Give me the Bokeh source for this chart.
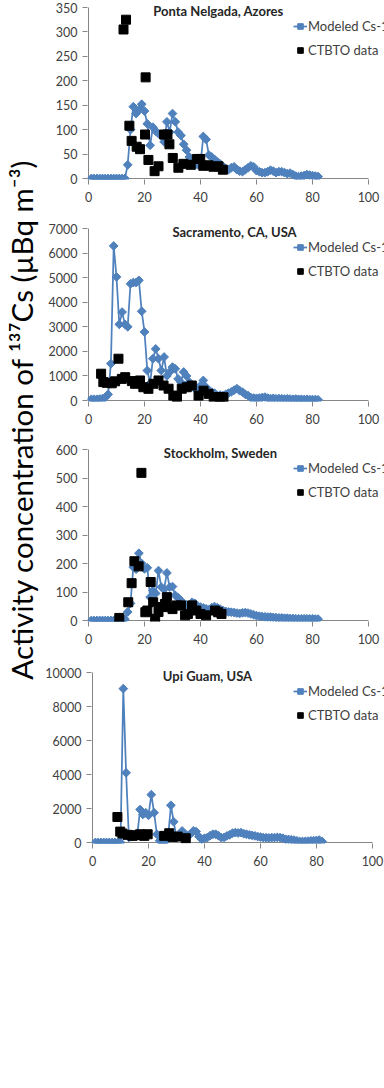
import numpy as np
from bokeh.plotting import figure
from bokeh.models import Range1d, Label, Legend, LegendItem, FixedTicker, ColumnDataSource
from bokeh.layouts import row, column
from bokeh.embed import file_html
from bokeh.resources import INLINE

# ---------------- data ----------------
x_ticks = [0, 20, 40, 60, 80, 100]
model_days = list(range(1, 83))

titles = ["Ponta Nelgada, Azores", "Sacramento, CA, USA", "Stockholm, Sweden", "Upi Guam, USA"]
y_max = [350, 7000, 600, 10000]
y_step = [50, 1000, 100, 2000]

azores_model = [0, 0, 0, 0, 0, 0, 0, 0, 0, 0, 0, 0, 0,
                28, 100, 147, 133, 140, 152, 138, 112, 68, 105, 97, 92, 88, 75, 116, 95, 133, 116,
                95, 88, 70, 58, 44, 31, 27, 29, 30, 86, 80, 48, 44, 39, 34, 30, 25, 20, 18, 22,
                24, 18, 15, 14, 18, 22, 26, 24, 16, 14, 12, 12, 14, 17, 15, 12, 14, 14, 12, 10,
                11, 8, 5, 4, 5, 6, 8, 7, 6, 5, 4]
azores_obs_x = [12.5, 13.4, 14.6, 15.4, 17.2, 18.4, 20.2, 20.4, 21.4, 23.6, 25, 27, 28.2, 28.9,
                30.1, 32.1, 33.9, 36.5, 38.7, 39.9, 41, 42.9, 44.6, 46.4, 48]
azores_obs_y = [305, 325, 108, 77, 65, 60, 90, 207, 38, 15, 25, 90, 90, 70,
                42, 22, 30, 28, 40, 40, 26, 27, 24, 25, 18]

sacramento_model = [50, 50, 50, 60, 80, 120, 250, 1500, 6290, 5030, 3100, 3600, 3100, 3000,
                    4750, 4800, 4800, 4890, 3630, 2790, 1220, 700, 1700, 2100, 1700, 1220, 1770,
                    1000, 1160, 1360, 1290, 880, 750, 1160, 1000, 750, 600, 480, 500, 610, 815,
                    540, 400, 340, 300, 200, 220, 200, 250, 300, 350, 420, 480, 400, 340, 250,
                    200, 120, 100, 90, 100, 120, 140, 100, 80, 90, 70, 80, 70, 60, 70, 60, 50,
                    60, 50, 50, 40, 50, 40, 40, 40, 30]
sacramento_obs_x = [4.5, 5.3, 6.5, 8.3, 9.5, 10.7, 11.9, 13.1, 15.5, 16.6, 18.4, 19.6, 21.4, 23.2,
                    25, 26.8, 28.6, 30.3, 31.6, 33.3, 35.1, 36.9, 39.3, 41.1, 42.9, 44.7, 47, 48.2]
sacramento_obs_y = [1090, 750, 720, 700, 780, 1700, 880, 950, 790, 680, 815, 540, 475, 680,
                    815, 610, 480, 200, 140, 480, 540, 610, 200, 400, 270, 140, 140, 130]

stockholm_model = [0, 0, 0, 0, 0, 0, 0, 0, 0, 0, 0, 0,
                   5, 30, 60, 187, 180, 236, 200, 181, 185, 82, 105, 95, 175, 117, 110, 167, 117,
                   119, 88, 80, 70, 58, 55, 50, 64, 60, 50, 47, 44, 41, 38, 45, 49, 45, 40, 35,
                   32, 30, 29, 28, 26, 25, 27, 28, 26, 23, 20, 17, 15, 14, 13, 12, 12, 11, 10, 9,
                   9, 8, 8, 7, 7, 6, 6, 6, 6, 6, 6, 6, 5, 5]
stockholm_obs_x = [11, 14.2, 15.4, 16.4, 17.9, 18.9, 20.3, 21, 22.2, 23.1, 23.8, 25, 26.2, 27.3,
                   28, 29, 30, 31.5, 33, 34.5, 35.5, 37, 38.5, 40, 42, 45.2, 46.3, 47.5]
stockholm_obs_y = [9, 64, 131, 208, 190, 518, 29, 35, 135, 64, 6, 30, 47, 58,
                   82, 47, 40, 53, 53, 18, 23, 53, 35, 23, 18, 35, 29, 23]

guam_model = [0, 0, 0, 0, 0, 0, 0, 0, 0, 0,
              9050, 4100, 300, 350, 400, 450, 1940, 1650, 1750, 1600, 2815, 1750, 485, 100, 0,
              50, 290, 2190, 1220, 290, 480, 680, 500, 390, 500, 680, 640, 350, 190, 250, 290,
              400, 485, 485, 400, 290, 300, 390, 450, 550, 580, 560, 580, 520, 485, 450, 420,
              390, 350, 320, 290, 280, 270, 290, 290, 300, 290, 250, 190, 180, 160, 140, 100,
              60, 60, 70, 80, 100, 110, 120, 140, 60]
guam_obs_x = [8.9, 9.9, 10.7, 12.5, 14.3, 15.5, 17, 18.5, 19.7, 25.6, 27.4, 28.6, 30.4, 33.3]
guam_obs_y = [1500, 640, 525, 450, 390, 430, 485, 390, 485, 390, 545, 330, 350, 250]

model_series = [azores_model, sacramento_model, stockholm_model, guam_model]
obs_x = [azores_obs_x, sacramento_obs_x, stockholm_obs_x, guam_obs_x]
obs_y = [azores_obs_y, sacramento_obs_y, stockholm_obs_y, guam_obs_y]

legend_labels = ["Modeled Cs-137", "CTBTO data"]
y_label = "Activity concentration of \u00b9\u00b3\u2077Cs (\u00b5Bq m\u207b\u00b3)"

# ---------------- layout / style ----------------
BLUE = "#4F81BD"
AXIS = "#868686"
TXT = "#404040"
FONT = "Lato"

# (fig height, plot top offset, plot height, plot left (page), title x center (page))
geom = [
    (221, 7, 171, 88, 218),
    (221, 7, 172, 88, 234),
    (222, 7, 171, 88, 220),
    (216, 8, 170, 92, 207),
]
LABEL_W = 40
FIG_W = 384 - LABEL_W
PLOT_W = 280          # pixels spanned by x = 0..100

figs = []
for i in range(4):
    fh, bt, frh, left_page, tx = geom[i]
    bl = left_page - LABEL_W - 1          # frame starts 1px left of x=0
    fw = FIG_W - bl                       # frame runs to the right edge (legend overflows)
    FH = bt + frh + 1                     # frame from top of figure to 1px below y=0
    sx = (x_ticks[-1] - x_ticks[0]) / PLOT_W
    sy = y_max[i] / frh
    p = figure(width=FIG_W, height=fh, output_backend="svg", toolbar_location=None,
               x_range=Range1d(x_ticks[0] - sx, x_ticks[0] + (fw - 1) * sx),
               y_range=Range1d(-sy, (frh + bt) * sy),
               frame_width=fw, frame_height=FH,
               min_border_left=bl, min_border_right=0,
               min_border_top=0, min_border_bottom=fh - FH)
    p.outline_line_color = None
    p.xgrid.visible = False
    p.ygrid.visible = False

    p.xaxis.ticker = FixedTicker(ticks=x_ticks)
    p.yaxis.ticker = FixedTicker(ticks=list(range(0, y_max[i] + 1, y_step[i])))
    for ax in (p.xaxis[0], p.yaxis[0]):
        ax.axis_line_color = None
        ax.major_tick_line_color = AXIS
        ax.minor_tick_line_color = None
        ax.major_tick_out = 5
        ax.major_tick_in = 0
        ax.major_label_text_font = FONT
        ax.major_label_text_font_size = "12.5px"
        ax.major_label_text_color = TXT
    p.yaxis.major_label_standoff = 5
    p.xaxis.major_label_standoff = 7

    # axis lines limited to the data extent (0..100, 0..ymax)
    p.segment(x0=[x_ticks[0], x_ticks[0]], y0=[0, 0], x1=[x_ticks[-1], x_ticks[0]],
              y1=[0, y_max[i]], line_color=AXIS, line_width=1)

    src_m = ColumnDataSource(dict(x=model_days, y=model_series[i]))
    src_o = ColumnDataSource(dict(x=obs_x[i], y=obs_y[i]))
    ln = p.line("x", "y", source=src_m, line_color=BLUE, line_width=1.75)
    mk = p.scatter("x", "y", source=src_m, marker="square", angle=np.pi / 4, size=6.2,
                   fill_color=BLUE, line_color=BLUE)
    sq = p.scatter("x", "y", source=src_o, marker="square", size=9,
                   fill_color="black", line_color="black")

    leg_left = 293 - LABEL_W - bl
    leg = Legend(items=[LegendItem(label=legend_labels[0], renderers=[ln, mk]),
                        LegendItem(label=legend_labels[1], renderers=[sq])],
                 location=(leg_left, FH - (bt + 52.5)), orientation="vertical",
                 glyph_width=14, glyph_height=20, label_height=20, label_standoff=1,
                 spacing=4, padding=0, margin=0, border_line_color=None,
                 background_fill_alpha=0, label_text_font=FONT,
                 label_text_font_size="13px", label_text_color=TXT)
    p.add_layout(leg, "center")

    p.add_layout(Label(x=tx - LABEL_W - bl, y=FH - (bt + 3.5), x_units="screen", y_units="screen",
                       text=titles[i], text_font=FONT, text_font_style="bold",
                       text_font_size="13px", text_color="#262626",
                       text_align="center", text_baseline="middle"))
    figs.append(p)

total_h = sum(g[0] for g in geom)
lab = figure(width=LABEL_W, height=total_h, output_backend="svg", toolbar_location=None,
             x_range=Range1d(0, 1), y_range=Range1d(0, 1),
             min_border_left=0, min_border_right=0, min_border_top=0, min_border_bottom=0)
lab.axis.visible = False
lab.xgrid.visible = False
lab.ygrid.visible = False
lab.outline_line_color = None
lab.add_layout(Label(x=21, y=total_h - 419, x_units="screen", y_units="screen",
                     text=y_label, angle=np.pi / 2, text_font=FONT, text_font_size="29.5px",
                     text_color="black", text_align="center", text_baseline="middle"))

panels = column(*[row(f, spacing=0) for f in figs], spacing=0)
layout = row(lab, panels, spacing=0)

open("out.html", "w").write(file_html(layout, INLINE))
